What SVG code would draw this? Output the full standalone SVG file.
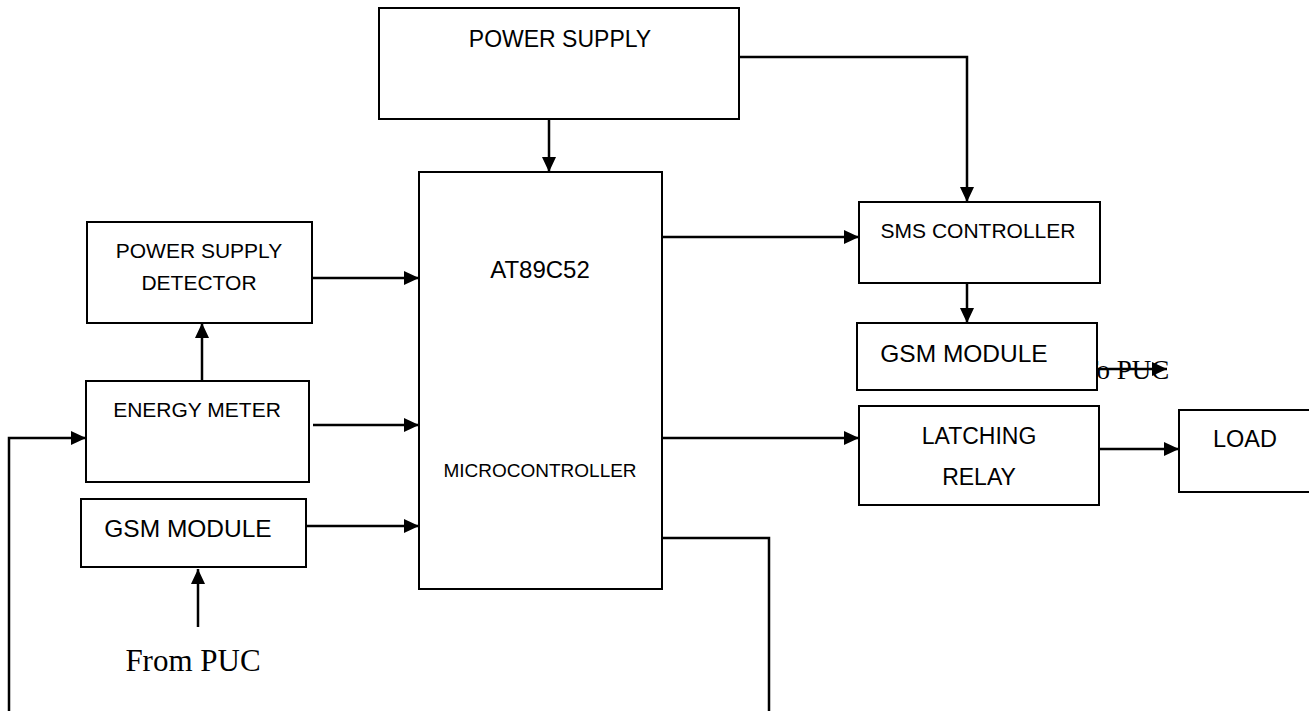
<svg xmlns="http://www.w3.org/2000/svg" width="1309" height="711" viewBox="0 0 1309 711">
  <style>
    .box { fill: #ffffff; stroke: #000000; stroke-width: 2; }
    .lbl { font-family: "Liberation Sans", Arial, sans-serif; fill: #000000; text-anchor: middle; }
    .serif { font-family: "Liberation Serif", "Times New Roman", serif; fill: #000000; }
    .wire { fill: none; stroke: #000000; stroke-width: 2.5; }
    .arrow { fill: none; stroke: #000000; stroke-width: 2.5; marker-end: url(#ah); }
  </style>
  <defs>
    <marker id="ah" markerUnits="userSpaceOnUse" markerWidth="16" markerHeight="14" refX="15" refY="7" orient="auto">
      <path d="M0,0 L15,7 L0,14 z" fill="#000000"/>
    </marker>
  </defs>
  <rect width="1309" height="711" fill="#ffffff"/>

  <g id="label-to-puc">
    <text class="serif" x="1082" y="379" font-size="27">To PUC</text>
  </g>
  <g id="label-from-puc">
    <text class="serif" x="193" y="671" font-size="31" text-anchor="middle">From PUC</text>
  </g>

  <g id="power-supply">
    <rect class="box" x="379" y="8" width="360" height="111"/>
    <text class="lbl" x="560" y="47" font-size="23">POWER SUPPLY</text>
  </g>
  <g id="microcontroller">
    <rect class="box" x="419" y="172" width="243" height="417"/>
    <text class="lbl" x="540" y="278" font-size="24">AT89C52</text>
    <text class="lbl" x="540" y="477" font-size="19">MICROCONTROLLER</text>
  </g>
  <g id="power-supply-detector">
    <rect class="box" x="87" y="222" width="225" height="101"/>
    <text class="lbl" x="199" y="258" font-size="21">POWER SUPPLY</text>
    <text class="lbl" x="199" y="290" font-size="21">DETECTOR</text>
  </g>
  <g id="energy-meter">
    <rect class="box" x="86" y="381" width="223" height="101"/>
    <text class="lbl" x="197" y="417" font-size="21">ENERGY METER</text>
  </g>
  <g id="gsm-module-in">
    <rect class="box" x="81" y="499" width="225" height="68"/>
    <text class="lbl" x="188" y="537" font-size="24.5">GSM MODULE</text>
  </g>
  <g id="sms-controller">
    <rect class="box" x="859" y="202" width="241" height="81"/>
    <text class="lbl" x="978" y="238" font-size="21">SMS CONTROLLER</text>
  </g>
  <g id="gsm-module-out">
    <rect class="box" x="857" y="323" width="240" height="67"/>
    <text class="lbl" x="964" y="362" font-size="24.5">GSM MODULE</text>
  </g>
  <g id="latching-relay">
    <rect class="box" x="859" y="406" width="240" height="99"/>
    <text class="lbl" x="979" y="444" font-size="23">LATCHING</text>
    <text class="lbl" x="979" y="485" font-size="23">RELAY</text>
  </g>
  <g id="load">
    <rect class="box" x="1179" y="410" width="135" height="82"/>
    <text class="lbl" x="1245" y="447" font-size="23.5">LOAD</text>
  </g>

  <g id="connectors">
    <path class="arrow" d="M549,119 L549,172"/>
    <path class="arrow" d="M739,57 L967,57 L967,202"/>
    <path class="arrow" d="M967,283 L967,323"/>
    <path class="arrow" d="M1097,369 L1167,369"/>
    <path class="arrow" d="M662,237 L859,237"/>
    <path class="arrow" d="M662,438 L859,438"/>
    <path class="arrow" d="M1099,449 L1179,449"/>
    <path class="arrow" d="M312,278 L419,278"/>
    <path class="arrow" d="M202,381 L202,323"/>
    <path class="arrow" d="M313,425 L419,425"/>
    <path class="arrow" d="M306,526 L419,526"/>
    <path class="arrow" d="M198,627 L198,569"/>
    <path class="arrow" d="M9,711 L9,438 L86,438"/>
    <path class="wire" d="M662,538 L769,538 L769,711"/>
  </g>
</svg>
